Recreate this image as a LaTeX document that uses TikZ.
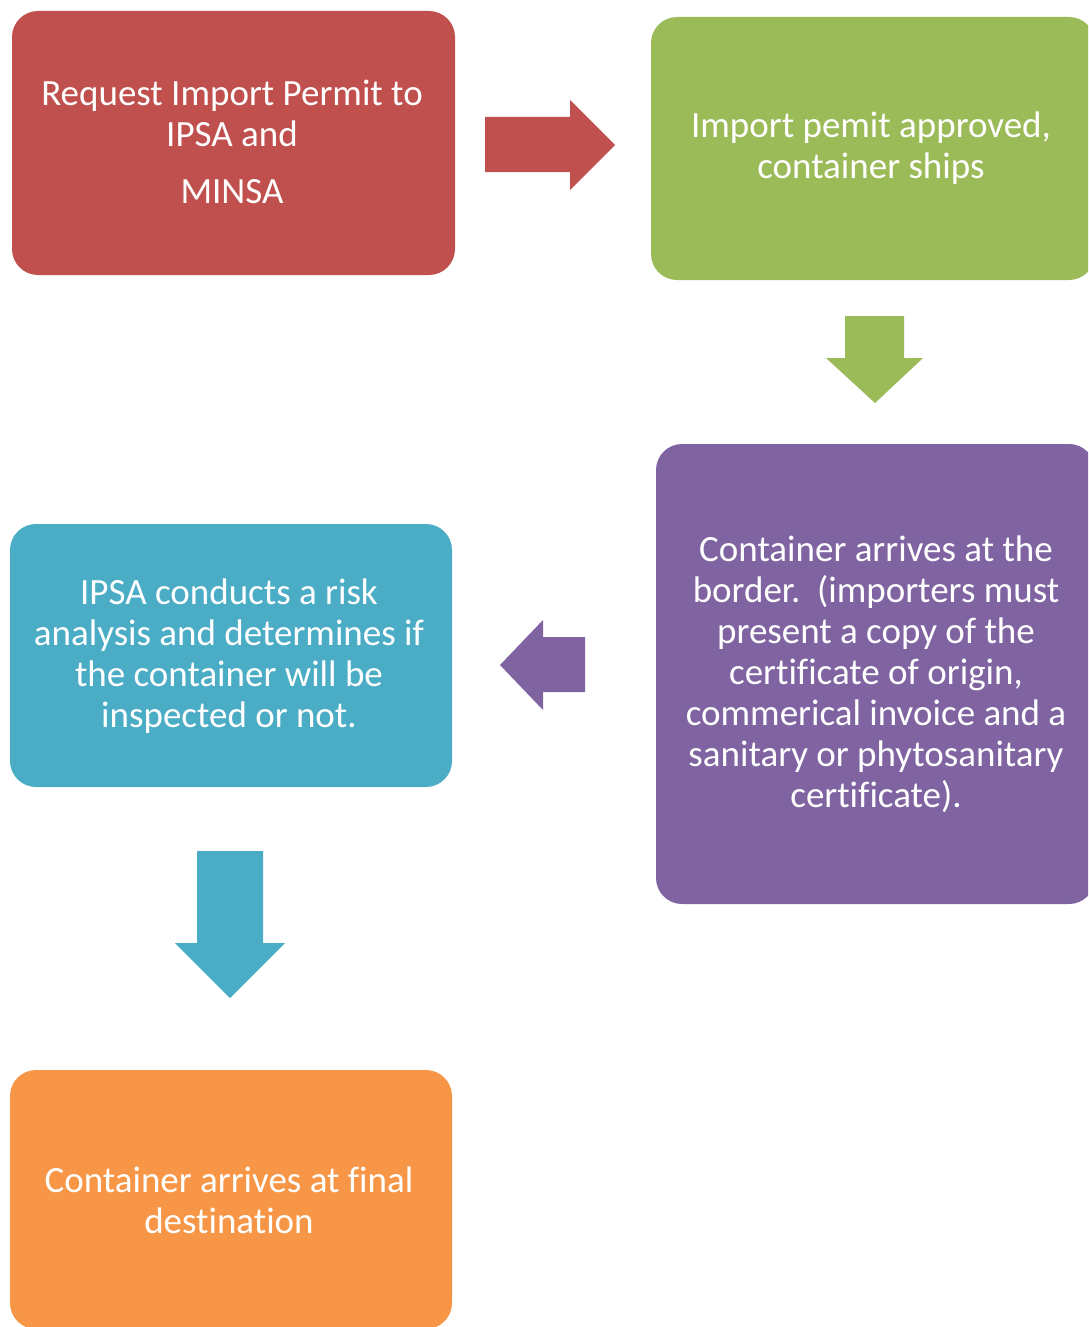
\documentclass[tikz,border=0pt]{standalone}
\usepackage{fontspec}
\setmainfont{Carlito}[Ligatures=NoCommon]
\definecolor{cred}{HTML}{C0504D}
\definecolor{cgreen}{HTML}{9BBB59}
\definecolor{cpurple}{HTML}{8064A2}
\definecolor{cblue}{HTML}{4BACC6}
\definecolor{corange}{HTML}{F79646}
\begin{document}
\begin{tikzpicture}[x=1pt,y=-1pt,
  box/.style={rounded corners=26pt, inner sep=0pt},
  txt/.style={text=white, align=center, font=\fontsize{37}{41}\selectfont, inner sep=0pt}]
\useasboundingbox (0,0) rectangle (1088,1327);
\begin{scope}
\clip (0,0) rectangle (1088,1327);
% boxes
\node[box, fill=cred, minimum width=443pt, minimum height=264pt] (req) at (233.5,143) {};
\node[txt] (reqtxt) at (232,141.5) {Request Import Permit to\\IPSA and\\[16pt]MINSA};
\node[box, fill=cgreen, minimum width=444pt, minimum height=263pt] (appr) at (873,148.5) {};
\node[txt] (apprtxt) at (871,148.5) {Import pemit approved,\\container ships};
\node[box, fill=cpurple, minimum width=439pt, minimum height=460pt] (bord) at (875.5,674) {};
\node[txt] (bordtxt) at (876,674)
  {Container arrives at the\\border.\ \ (importers must\\present a copy of the\\certificate of origin,\\commerical invoice and a\\sanitary or phytosanitary\\certificate).};
\node[box, fill=cblue, minimum width=442pt, minimum height=263pt] (risk) at (231,655.5) {};
\node[txt] (risktxt) at (229,656.5)
  {IPSA conducts a risk\\analysis and determines if\\the container will be\\inspected or not.};
\node[box, fill=corange, minimum width=442pt, minimum height=259pt] (dest) at (231,1199.5) {};
\node[txt] (desttxt) at (229,1200) {Container arrives at final\\destination};
% block arrows
\fill[cred] (485,117) -- (570,117) -- (570,100) -- (615,145) -- (570,190) -- (570,172) -- (485,172) -- cycle;
\fill[cgreen] (845,316) -- (904,316) -- (904,358) -- (923,358) -- (875,403) -- (826,358) -- (845,358) -- cycle;
\fill[cpurple] (585,637) -- (543,637) -- (543,620) -- (500,665) -- (543,710) -- (543,692) -- (585,692) -- cycle;
\fill[cblue] (197,851) -- (263,851) -- (263,943) -- (285,943) -- (230,998) -- (175,943) -- (197,943) -- cycle;
\end{scope}
\end{tikzpicture}
\end{document}
